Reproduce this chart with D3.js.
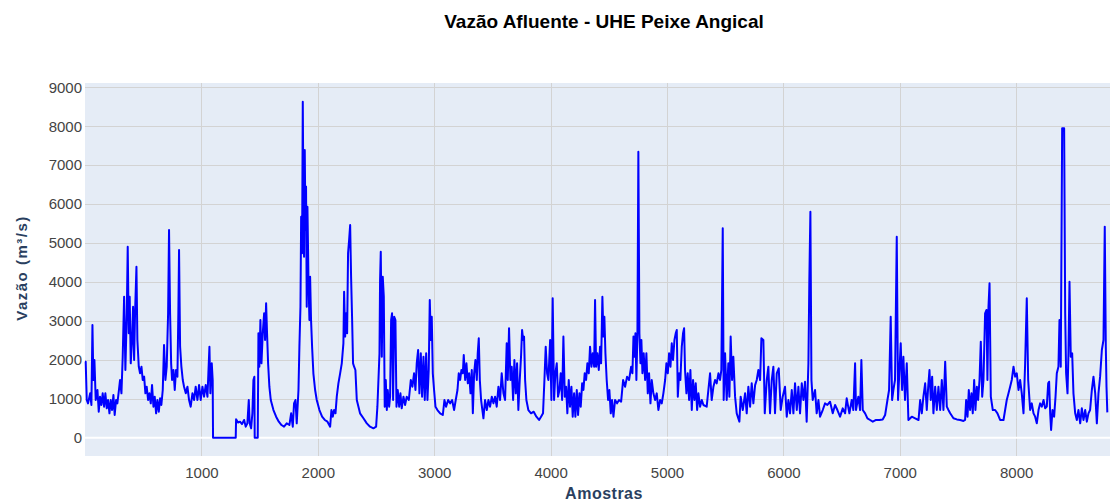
<!DOCTYPE html>
<html lang="pt">
<head>
<meta charset="UTF-8">
<title>Vazão Afluente - UHE Peixe Angical</title>
<script src="https://d3js.org/d3.v7.min.js"></script>
<style>
  body { margin: 0; background: #fff; }
  svg { display: block; font-family: "Liberation Sans", Arial, sans-serif; }
</style>
</head>
<body>
<div id="chart"></div>
<script>
// textos
var titulo = "Vazão Afluente - UHE Peixe Angical";
var tituloX = "Amostras";
var tituloY = "Vazão (m³/s)";

// ticks
var ticksX = [1000, 2000, 3000, 4000, 5000, 6000, 7000, 8000];
var ticksY = [0, 1000, 2000, 3000, 4000, 5000, 6000, 7000, 8000, 9000];

// serie: [amostra, vazao m3/s], por trechos
var trecho1 = [[0,1950],[6,1952],[15,968],[26,882],[44,1139],[55,840],[64,2895],[72,1482],[81,1996],[92,968],
  [107,1225],[118,668],[129,1054],[141,840],[152,1139],[164,797],[175,1139],[187,754],[198,968],[210,626],
  [221,968],[233,711],[244,1097],[255,583],[267,968],[278,882],[290,1182],[301,1482],[313,1139],[324,2081],
  [336,3622],[347,1739],[359,3194],[367,4906],[376,2681],[384,3622],[393,1910],[404,2510],[413,3365],[422,1996],
  [430,3194],[442,4393],[450,2510],[462,1824],[473,1654],[485,1824],[496,1482],[508,1568],[519,1139],[530,1310],
  [542,968],[553,1139],[565,882],[576,1353],[588,797],[599,1054],[611,626],[622,968],[634,668],[645,1011],
  [656,840],[668,1225],[679,2381],[691,1482],[702,1824],[714,3194],[722,5335],[731,3194],[740,1910],[748,1482],
  [760,1739],[771,1225],[782,1739],[794,1568],[802,3194],[808,4821],[817,2338],[828,1824],[840,1482],[851,1310],
  [866,1139],[880,1310],[894,968],[908,797],[923,1139],[937,968],[951,1310],[966,968],[980,1353],[994,968],
  [1009,1310],[1023,1054],[1037,1353],[1052,1054],[1060,1654],[1069,2338],[1077,1139],[1089,1910],[1097,1482],[1100,0]];

var trecho2 = [[1295,0],[1298,472],[1315,390],[1332,412],[1349,350],[1367,455],[1381,283],[1395,369],[1407,968],
  [1415,369],[1427,240],[1438,626],[1447,1482],[1455,1568],[1458,0],[1484,0],[1490,2681],[1498,1824],[1507,3023],
  [1516,1910],[1527,2681],[1539,3194],[1547,2510],[1556,3451],[1564,2681],[1573,1910],[1584,1310],[1596,968],
  [1619,711],[1642,540],[1665,412],[1688,326],[1710,283],[1733,369],[1756,326],[1771,626],[1785,283],[1796,882],
  [1808,968],[1819,369],[1834,1225],[1842,2338],[1851,3365],[1857,5677],[1865,4735],[1871,8631],[1877,5763],
  [1882,4650],[1888,7390],[1894,5335],[1899,6449],[1905,3365],[1911,5934],[1920,4050],[1928,3023],[1934,4136],
  [1942,3023],[1951,2338],[1962,1654],[1977,1225],[1991,968],[2014,711],[2037,540],[2060,455],[2083,412],[2106,283],
  [2117,711],[2129,540],[2140,711],[2152,626],[2163,1054],[2177,1396],[2192,1654],[2206,1910],[2220,2424],
  [2226,3750],[2235,2596],[2243,3194],[2252,2681],[2260,4735],[2269,5078],[2278,5464],[2286,4136],[2295,3023],
  [2303,1910],[2312,1824],[2323,1739],[2335,968],[2363,626],[2392,498],[2421,369],[2449,283],[2478,240],[2501,283]];

var trecho3 = [[2512,797],[2521,1482],[2530,2167],[2535,4050],[2541,4778],[2550,2081],[2558,4136],[2567,3622],
  [2575,797],[2584,1482],[2593,711],[2601,1225],[2613,797],[2621,1054],[2630,3023],[2638,3194],[2647,968],
  [2656,3108],[2667,3023],[2676,797],[2687,1225],[2699,797],[2710,1139],[2721,754],[2736,1054],[2750,840],
  [2764,1054],[2782,968],[2799,1482],[2813,1310],[2827,1654],[2839,1225],[2850,1910],[2862,2253],[2873,1139],
  [2885,2167],[2896,1054],[2908,2081],[2919,968],[2931,2167],[2942,968],[2953,1739],[2962,3537],[2971,2510],
  [2979,3108],[2988,1654],[2999,1225],[3011,797],[3028,711],[3051,626],[3074,583],[3088,968],[3102,797],
  [3120,968],[3137,882],[3154,968],[3171,711],[3185,968],[3200,1225],[3211,1654],[3223,1482],[3234,1739],
  [3246,1654],[3254,2124],[3266,1482],[3277,1910],[3289,1396],[3300,1654],[3312,1139],[3323,1739],[3332,626],
  [3343,1654],[3354,1996],[3366,1482],[3374,2167],[3383,2553],[3392,1482],[3403,968],[3414,711],[3423,498],
  [3437,968],[3452,711],[3466,968],[3480,797],[3495,1054],[3509,882],[3523,1054],[3537,797],[3552,1310]];

var trecho4 = [[3566,968],[3580,1654],[3595,1139],[3609,968],[3623,2424],[3632,1482],[3643,2810],[3655,1482],
  [3666,1824],[3678,968],[3689,1996],[3701,1139],[3712,1910],[3723,711],[3735,1482],[3746,2081],[3755,2767],
  [3764,2510],[3772,2596],[3781,1482],[3792,968],[3809,711],[3832,626],[3855,668],[3878,540],[3901,455],
  [3918,540],[3935,626],[3947,1482],[3958,2338],[3970,1654],[3981,1482],[3996,2510],[4007,968],[4018,3580],
  [4030,968],[4041,1654],[4053,1910],[4064,1054],[4076,1225],[4087,1654],[4099,968],[4110,2596],[4122,1054],
  [4133,1310],[4144,626],[4156,1482],[4167,797],[4179,1310],[4190,540],[4202,1139],[4213,540],[4225,1225],
  [4236,583],[4248,1139],[4259,797],[4271,1396],[4282,1225],[4293,1654],[4305,1482],[4316,1910],[4328,1654],
  [4339,2338],[4351,1824],[4362,2167],[4374,1824],[4382,3537],[4391,1824],[4402,2167],[4414,1739],[4425,2338],
  [4434,1910],[4445,3622],[4454,2596],[4462,3108],[4471,2167],[4482,1482],[4494,968],[4505,1225],[4517,626],
  [4528,968],[4540,540],[4554,968],[4571,882],[4588,968],[4606,925],[4623,1482],[4640,1310],[4657,1568]];

var trecho5 = [[4674,1482],[4692,1824],[4703,1654],[4712,2596],[4720,2081],[4729,2681],[4737,1482],[4746,2681],
  [4754,7347],[4763,2681],[4772,1910],[4780,2510],[4789,1654],[4800,2167],[4812,1482],[4823,2167],[4835,1139],
  [4846,1654],[4858,882],[4869,1482],[4883,1139],[4898,968],[4912,1139],[4926,711],[4941,968],[4955,882],
  [4969,1139],[4984,1482],[4995,1910],[5007,1654],[5018,2167],[5030,1824],[5041,2424],[5052,1996],[5064,2510],
  [5075,2681],[5084,2767],[5093,1054],[5104,1654],[5115,1482],[5127,2338],[5138,2681],[5147,2810],[5155,1739],
  [5167,1139],[5178,1654],[5190,968],[5201,1739],[5213,711],[5224,1482],[5236,968],[5247,1396],[5259,711],
  [5270,1139],[5284,797],[5299,968],[5313,840],[5341,797],[5370,1654],[5384,968],[5399,1310],[5413,1482],
  [5427,1396],[5442,1654],[5456,1482],[5467,1739],[5479,5378],[5487,968],[5499,2167],[5513,968],[5527,1910],
  [5536,1054],[5547,2596],[5559,1482],[5570,2081],[5585,1054],[5599,626],[5622,412],[5633,1054],[5651,711]];

var trecho6 = [[5671,1139],[5685,626],[5699,1310],[5714,797],[5728,1396],[5742,882],[5757,1350],[5771,1482],
  [5785,1739],[5800,1482],[5811,2553],[5828,2510],[5840,626],[5857,1482],[5871,1824],[5885,626],[5900,1482],
  [5914,1824],[5928,626],[5943,1654],[5960,1780],[5977,711],[5994,1054],[6014,1310],[6029,540],[6043,968],
  [6057,626],[6072,1225],[6086,626],[6100,1396],[6115,711],[6129,1310],[6143,626],[6158,1396],[6172,968],
  [6186,1439],[6200,412],[6215,1910],[6223,4050],[6232,5806],[6241,1482],[6252,968],[6272,1225],[6286,626],
  [6301,968],[6315,540],[6338,711],[6358,882],[6378,840],[6401,925],[6424,626],[6444,840],[6464,711],[6487,540],
  [6510,754],[6530,626],[6544,1011],[6567,626],[6587,968],[6601,711],[6616,1910],[6624,711],[6644,1054],
  [6659,711],[6670,1996],[6682,711],[6702,626],[6722,498],[6745,455],[6768,412],[6796,455],[6825,455],[6853,470],
  [6874,583],[6894,968],[6908,1225],[6922,3108],[6934,968],[6945,1225],[6959,1482],[6974,5164],[6985,968],
  [6997,1739],[7008,2424],[7020,1225],[7031,2081],[7045,968],[7060,1910],[7074,455]];

var trecho7 = [[7103,540],[7132,498],[7161,455],[7175,968],[7189,626],[7203,1054],[7218,1396],[7232,711],
  [7244,1310],[7255,1739],[7266,968],[7278,1568],[7289,626],[7304,1310],[7318,711],[7332,1310],[7347,711],
  [7361,1482],[7375,711],[7390,1953],[7404,797],[7418,711],[7433,626],[7461,498],[7490,470],[7519,455],
  [7547,430],[7561,455],[7570,968],[7582,540],[7593,1225],[7604,711],[7616,1139],[7627,626],[7639,1482],
  [7650,711],[7662,1310],[7673,968],[7685,1482],[7696,2467],[7708,1054],[7719,1482],[7733,3194],[7745,3280],
  [7753,1482],[7762,3365],[7771,3964],[7782,1054],[7799,711],[7819,711],[7839,626],[7862,455],[7891,455],
  [7905,711],[7919,968],[7934,1139],[7948,1310],[7962,1482],[7977,1824],[7991,1568],[8005,1654],[8020,1225],
  [8034,1482],[8048,1139],[8063,626],[8077,1910],[8091,3580],[8103,1482],[8120,711],[8134,882],[8149,626]];

var trecho8 = [[8163,540],[8177,369],[8192,711],[8206,882],[8220,797],[8235,968],[8249,754],[8263,797],
  [8275,1396],[8283,1439],[8292,626],[8300,197],[8312,711],[8326,540],[8338,1054],[8349,1654],[8363,1824],
  [8372,3023],[8383,1824],[8395,7947],[8412,7947],[8421,3194],[8429,1654],[8441,1139],[8449,2167],[8458,4007],
  [8469,2081],[8481,2167],[8492,1139],[8507,626],[8521,455],[8535,711],[8550,369],[8564,754],[8578,455],
  [8593,711],[8607,412],[8621,626],[8635,711],[8650,1225],[8664,1568],[8679,1139],[8693,369],[8707,1139],
  [8721,1568],[8736,2253],[8750,2510],[8761,5421],[8770,2338],[8776,1300],[8783,650]];

var serie = [].concat(trecho1, trecho2, trecho3, trecho4, trecho5, trecho6, trecho7, trecho8);

var W = 1110, H = 502;
var plot = { left: 85, right: 1110, top: 83, bottom: 456 };

var svg = d3.select("#chart").append("svg")
    .attr("width", W)
    .attr("height", H);

var x = d3.scaleLinear().domain([0, 8806]).range([plot.left, plot.right]);
var y = d3.scaleLinear().domain([-470, 9110]).range([plot.bottom, plot.top]);

// fundo
svg.append("rect")
    .attr("x", plot.left).attr("y", plot.top)
    .attr("width", plot.right - plot.left)
    .attr("height", plot.bottom - plot.top)
    .attr("fill", "#e5ecf6");

// grade
svg.append("g").selectAll("line")
    .data(ticksX)
    .enter().append("line")
    .attr("x1", function(d) { return Math.round(x(d)) + 0.5; })
    .attr("x2", function(d) { return Math.round(x(d)) + 0.5; })
    .attr("y1", plot.top).attr("y2", plot.bottom)
    .attr("stroke", "#d3d3d3").attr("stroke-width", 1);

svg.append("g").selectAll("line")
    .data(ticksY.filter(function(d) { return d !== 0; }))
    .enter().append("line")
    .attr("x1", plot.left).attr("x2", plot.right)
    .attr("y1", function(d) { return Math.round(y(d)) + 0.5; })
    .attr("y2", function(d) { return Math.round(y(d)) + 0.5; })
    .attr("stroke", "#d3d3d3").attr("stroke-width", 1);

// linha do zero
svg.append("line")
    .attr("x1", plot.left).attr("x2", plot.right)
    .attr("y1", y(0)).attr("y2", y(0))
    .attr("stroke", "#fff").attr("stroke-width", 2);

// eixos (so rotulos)
var eixoX = svg.append("g")
    .attr("transform", "translate(0," + plot.bottom + ")")
    .call(d3.axisBottom(x).tickValues(ticksX).tickSize(0).tickPadding(11).tickFormat(d3.format("d")));
var eixoY = svg.append("g")
    .attr("transform", "translate(" + plot.left + ",0)")
    .call(d3.axisLeft(y).tickValues(ticksY).tickSize(0).tickPadding(3).tickFormat(d3.format("d")));

[eixoX, eixoY].forEach(function(g) {
    g.select(".domain").remove();
    g.selectAll("text")
        .attr("fill", "#444")
        .style("font-size", "15px")
        .style("font-family", "'Liberation Sans', Arial, sans-serif");
});

// serie
var linha = d3.line()
    .x(function(d) { return x(d[0]); })
    .y(function(d) { return y(d[1]); });

svg.append("path")
    .datum(serie)
    .attr("d", linha)
    .attr("fill", "none")
    .attr("stroke", "#0000ff")
    .attr("stroke-width", 2)
    .attr("stroke-linejoin", "round");

// titulos
svg.append("text")
    .attr("x", 604).attr("y", 28)
    .attr("text-anchor", "middle")
    .attr("fill", "#000")
    .style("font-size", "19px")
    .style("font-weight", "bold")
    .text(titulo);

svg.append("text")
    .attr("x", 604).attr("y", 499)
    .attr("text-anchor", "middle")
    .attr("fill", "#2a3f5f")
    .style("font-size", "16px")
    .style("font-weight", "bold")
    .style("letter-spacing", "0.5px")
    .text(tituloX);

svg.append("text")
    .attr("transform", "translate(27,268) rotate(-90)")
    .attr("text-anchor", "middle")
    .attr("fill", "#2a3f5f")
    .style("font-size", "15px")
    .style("font-weight", "bold")
    .style("letter-spacing", "1.5px")
    .text(tituloY);
</script>
</body>
</html>
